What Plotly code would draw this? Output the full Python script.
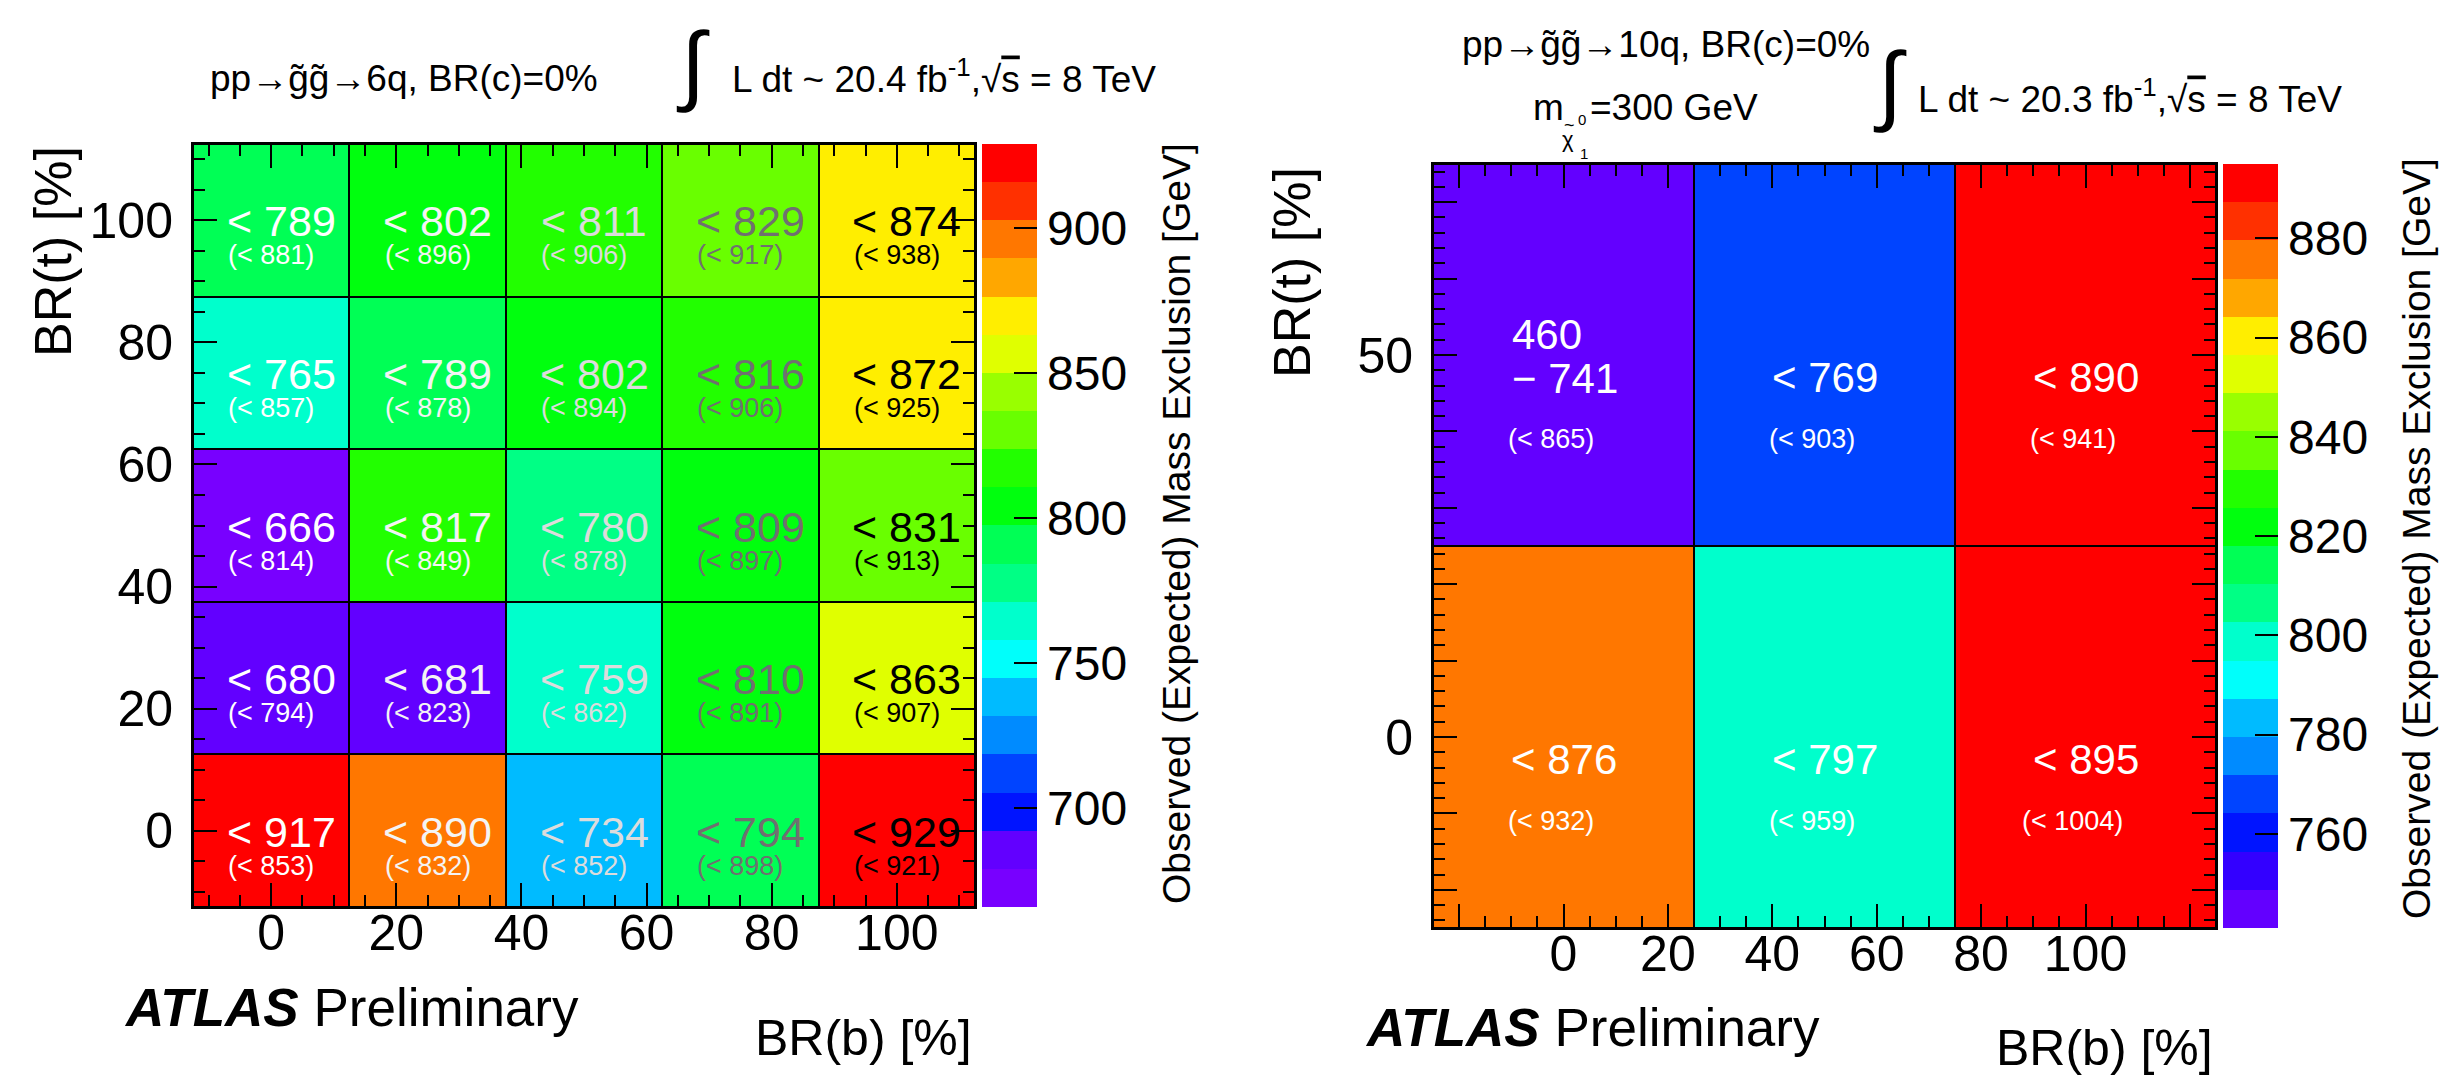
import plotly.graph_objects as go

# ---------------- data ----------------
# Left panel: gluino -> 6q, BR(b) on x, BR(t) on y
br_b_left = [0, 25, 50, 75, 100]
br_t_left = [0, 25, 50, 75, 100]
obs_left = [
    [917, 890, 734, 794, 929],   # BR(t)=0
    [680, 681, 759, 810, 863],   # BR(t)=25
    [666, 817, 780, 809, 831],   # BR(t)=50
    [765, 789, 802, 816, 872],   # BR(t)=75
    [789, 802, 811, 829, 874],   # BR(t)=100
]
exp_left = [
    [853, 832, 852, 898, 921],
    [794, 823, 862, 891, 907],
    [814, 849, 878, 897, 913],
    [857, 878, 894, 906, 925],
    [881, 896, 906, 917, 938],
]
# Right panel: gluino -> 10q
br_b_right = [0, 50, 100]
br_t_right = [0, 50]
obs_right = [
    [876, 797, 895],
    [741, 769, 890],
]
obs_right_lower = [
    [None, None, None],
    [460, None, None],
]
exp_right = [
    [932, 959, 1004],
    [865, 903, 941],
]
left_xticks = [0, 20, 40, 60, 80, 100]
left_yticks = [0, 20, 40, 60, 80, 100]
right_xticks = [-20, 0, 20, 40, 60, 80, 100, 120]
right_xlabels = [" ", "0", "20", "40", "60", "80", "100", " "]
right_yticks = [-20, -10, 0, 10, 20, 30, 40, 50, 60, 70]
right_ylabels = [" ", " ", "0", " ", " ", " ", " ", "50", " ", " "]
left_cbar_ticks = [700, 750, 800, 850, 900]
right_cbar_ticks = [760, 780, 800, 820, 840, 860, 880]

# ---------------- style ----------------
W, H = 2452, 1077
FONT = "Liberation Sans, Arial, Helvetica, sans-serif"

# ROOT "pretty" palette sampled into 20 contour levels (bottom -> top)
pal_right = ["#6300ff", "#3300ff", "#0014ff", "#0044ff", "#008bff",
             "#00bbff", "#00fffb", "#00ffcc", "#00ff85", "#00ff55",
             "#00ff0e", "#22ff00", "#69ff00", "#99ff00", "#e0ff00",
             "#ffee00", "#ffa700", "#ff7700", "#ff3000", "#ff0000"]
pal_left = ["#7800ff", "#6200ff"] + pal_right[2:]


def discrete(pal):
    n = len(pal)
    cs = []
    for k, c in enumerate(pal):
        cs.append([k / n, c])
        cs.append([(k + 1) / n, c])
    return cs


def px(x):
    return x / W


def py(y):
    return 1 - y / H


def flat_min(m):
    return min(v for row in m for v in row if v is not None)


def flat_max(m):
    return max(v for row in m for v in row if v is not None)


fig = go.Figure()

cb_common = dict(
    xanchor="left", xpad=0, ypad=0, yanchor="middle", lenmode="fraction",
    thicknessmode="pixels", thickness=55, ticks="inside", ticklen=23,
    tickwidth=2, tickcolor="black", outlinewidth=0,
    tickfont=dict(size=48, family=FONT, color="black"), tickmode="array",
)

fig.add_trace(go.Heatmap(
    x=br_b_left, y=br_t_left, z=obs_left,
    zmin=flat_min(obs_left), zmax=flat_max(obs_left),
    colorscale=discrete(pal_left), xgap=2, ygap=2, hoverinfo="skip",
    xaxis="x", yaxis="y",
    colorbar=dict(x=px(974), y=py(517.5), len=(899 - 136) / H,
                  tickvals=left_cbar_ticks, **cb_common),
))
fig.add_trace(go.Heatmap(
    x=br_b_right, y=br_t_right, z=obs_right,
    zmin=flat_min(obs_right), zmax=flat_max(obs_right),
    colorscale=discrete(pal_right), xgap=2, ygap=2, hoverinfo="skip",
    xaxis="x2", yaxis="y2",
    colorbar=dict(x=px(2215), y=py(538), len=(920 - 156) / H,
                  tickvals=right_cbar_ticks, **cb_common),
))

tickfont = dict(size=50, family=FONT, color="black")
axis_common = dict(
    ticks="inside", ticklen=24, tickwidth=2, tickcolor="black",
    showline=True, linecolor="black", linewidth=2, mirror="allticks",
    showgrid=False, zeroline=False, tickfont=tickfont, tickmode="array",
)


def minor(d):
    return dict(tickmode="linear", tick0=0, dtick=d, ticks="inside",
                ticklen=12, tickwidth=2, tickcolor="black")


fig.update_layout(
    width=W, height=H,
    margin=dict(l=0, r=0, t=0, b=0),
    paper_bgcolor="white", plot_bgcolor="black",
    showlegend=False,
    xaxis=dict(domain=[px(185), px(967)], range=[-12.5, 112.5], anchor="y",
               tickvals=left_xticks, minor=minor(5),
               ticklabelstandoff=-19, **axis_common),
    yaxis=dict(domain=[py(899), py(136)], range=[-12.5, 112.5], anchor="x",
               tickvals=left_yticks, minor=minor(5),
               ticklabelstandoff=8, **axis_common),
    xaxis2=dict(domain=[px(1425), px(2208)], range=[-25, 125], anchor="y2",
                tickvals=right_xticks, ticktext=right_xlabels, minor=minor(5),
                ticklabelstandoff=-19, **axis_common),
    yaxis2=dict(domain=[py(920), py(156)], range=[-25, 75], anchor="x2",
                tickvals=right_yticks, ticktext=right_ylabels, minor=minor(2),
                ticklabelstandoff=8, **axis_common),
)

ann = []


def paper_text(text, x, y, size, xanchor="left", angle=0, color="black"):
    ann.append(dict(text=text, x=px(x), y=py(y), xref="paper", yref="paper",
                    xanchor=xanchor, yanchor="middle", showarrow=False,
                    textangle=angle,
                    font=dict(size=size, family=FONT, color=color)))


# ---- cell labels, left ----
left_colors = ["#ffffff", "#f4f4f4", "#dcdcdc", "#707070", "#000000"]
for i, yv in enumerate(br_t_left):
    for j, xv in enumerate(br_b_left):
        ann.append(dict(text=f"&lt; {obs_left[i][j]}", x=xv, y=yv, xref="x", yref="y",
                        xshift=10, yshift=-1, showarrow=False,
                        font=dict(size=43, family=FONT, color=left_colors[j])))
        ann.append(dict(text=f"(&lt; {exp_left[i][j]})", x=xv, y=yv, xref="x", yref="y",
                        xshift=0, yshift=-35, showarrow=False,
                        font=dict(size=27, family=FONT, color=left_colors[j])))

# ---- cell labels, right ----
for i, yv in enumerate(br_t_right):
    for j, xv in enumerate(br_b_right):
        low = obs_right_lower[i][j]
        if low is None:
            ann.append(dict(text=f"&lt; {obs_right[i][j]}", x=xv, y=yv, xref="x2", yref="y2",
                            yshift=-22, showarrow=False,
                            font=dict(size=42, family=FONT, color="white")))
        else:
            ann.append(dict(text=f"{low}", x=xv, y=yv, xref="x2", yref="y2",
                            xanchor="left", xshift=-54, yshift=21, showarrow=False,
                            font=dict(size=42, family=FONT, color="white")))
            ann.append(dict(text=f"\u2212 {obs_right[i][j]}", x=xv, y=yv, xref="x2", yref="y2",
                            xanchor="left", xshift=-54, yshift=-23, showarrow=False,
                            font=dict(size=42, family=FONT, color="white")))
        ann.append(dict(text=f"(&lt; {exp_right[i][j]})", x=xv, y=yv, xref="x2", yref="y2",
                        xshift=-13, yshift=-84, showarrow=False,
                        font=dict(size=27, family=FONT, color="white")))

# ---- header texts ----
sqrt_s = "\u221a<span style='text-decoration:overline'>s</span>"
paper_text("pp\u2192g\u0303g\u0303\u21926q, BR(c)=0%", 200, 70, 37)
paper_text("\u222b", 685, 56, 88, xanchor="center")
paper_text(f"L dt ~ 20.4 fb<sup>-1</sup>,{sqrt_s} = 8 TeV", 722, 68, 37)

paper_text("pp\u2192g\u0303g\u0303\u219210q, BR(c)=0%", 1452, 37, 37)
paper_text("m", 1523, 100, 37)
paper_text("=300 GeV", 1580, 100, 37)
paper_text("\u03c7", 1560, 131, 22, xanchor="center")
paper_text("~", 1561, 117, 18, xanchor="center")
paper_text("0", 1574, 111, 15, xanchor="center")
paper_text("1", 1576, 145, 15, xanchor="center")
paper_text("\u222b", 1882, 76, 88, xanchor="center")
paper_text(f"L dt ~ 20.3 fb<sup>-1</sup>,{sqrt_s} = 8 TeV", 1908, 88, 37)

# ---- axis titles ----
paper_text("BR(t) [%]", 45, 244, 52, xanchor="center", angle=-90)
paper_text("BR(t) [%]", 1284, 265, 52, xanchor="center", angle=-90)
paper_text("BR(b) [%]", 966, 1030, 50, xanchor="right")
paper_text("BR(b) [%]", 2207, 1040, 50, xanchor="right")
paper_text("<b><i>ATLAS</i></b> Preliminary", 114, 999, 53)
paper_text("<b><i>ATLAS</i></b> Preliminary", 1355, 1019, 53)
paper_text("Observed (Expected) Mass Exclusion [GeV]", 1168, 516, 39,
           xanchor="center", angle=-90)
paper_text("Observed (Expected) Mass Exclusion [GeV]", 2408, 531, 39,
           xanchor="center", angle=-90)

fig.update_layout(annotations=ann)
fig.write_html("out.html")
